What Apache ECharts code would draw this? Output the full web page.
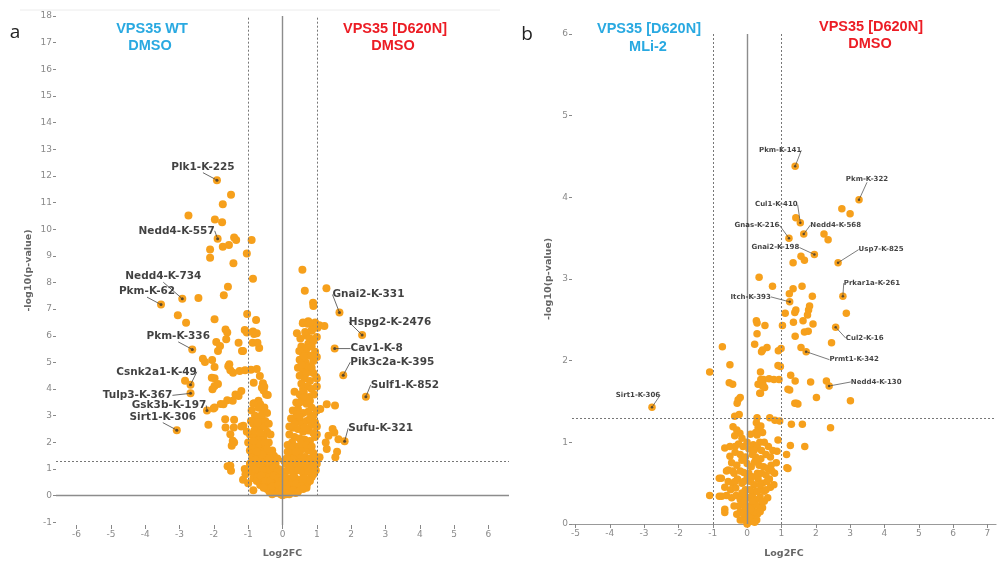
<!DOCTYPE html>
<html><head><meta charset="utf-8">
<script src="https://cdn.jsdelivr.net/npm/echarts@6/dist/echarts.min.js"></script>
<style>html,body{margin:0;padding:0;background:#fff}#c{width:997px;height:564px}</style>
</head><body><div id="c"></div>
<script>
// ---------------- DATA ----------------
// Panel a : tick values
const leftXTicks = [-6,-5,-4,-3,-2,-1,0,1,2,3,4,5,6];
const leftYTicks = [-1,0,1,2,3,4,5,6,7,8,9,10,11,12,13,14,15,16,17,18];
// Panel a : labelled sites
const leftLabelNames = ['Plk1-K-225','Nedd4-K-557','Nedd4-K-734','Pkm-K-62','Pkm-K-336','Csnk2a1-K-49','Tulp3-K-367','Gsk3b-K-197','Sirt1-K-306','Gnai2-K-331','Hspg2-K-2476','Cav1-K-8','Pik3c2a-K-395','Sulf1-K-852','Sufu-K-321'];
const leftLabelX = [-1.91,-1.89,-2.92,-3.54,-2.63,-2.68,-2.68,-2.20,-3.08,1.66,2.32,1.52,1.77,2.43,1.81];
const leftLabelY = [11.84,9.64,7.39,7.17,5.49,4.16,3.84,3.20,2.46,6.87,6.03,5.52,4.52,3.71,2.04];
// Panel a : other sites, left side (down)
const leftNegPoints = [
[-1.50,11.29],[-1.74,10.94],[-2.74,10.51],[-1.97,10.36],[-1.76,10.26],
[-1.41,9.69],[-1.35,9.59],[-0.90,9.59],[-2.11,9.24],[-1.74,9.34],[-1.56,9.41],[-1.04,9.09],[-2.11,8.93],[-1.43,8.72],[-0.86,8.14],
[-1.59,7.84],[-2.45,7.42],[-1.71,7.52],[-3.05,6.77],[-2.81,6.49],[-1.98,6.62],[-1.03,6.82],[-0.77,6.59],[-1.66,6.24],[-1.61,6.12],[-1.10,6.22],[-0.86,6.16],[-0.83,6.07],[-1.04,6.12],[-1.64,5.87],[-0.75,6.10],
[-1.93,5.77],[-1.82,5.62],[-1.88,5.43],[-1.28,5.74],[-1.15,5.43],[-0.87,5.74],[-0.68,5.54],[-0.73,5.74],[-1.18,5.43],
[-2.26,5.02],[-2.05,5.09],[-2.32,5.14],[-1.98,4.83],[-1.58,4.86],[-1.52,4.71],[-1.44,4.61],[-1.25,4.68],[-1.09,4.71],[-0.92,4.73],[-0.66,4.49],[-0.84,4.24],[-0.57,4.22],[-0.53,4.09],[-1.55,4.93],[-0.75,4.75],
[-2.84,4.31],[-1.98,4.41],[-1.98,4.12],[-1.88,4.19],[-2.04,3.99],[-2.06,4.43],[-1.28,3.74],[-1.37,3.80],[-1.61,3.58],[-0.48,3.80],[-0.43,3.78],[-0.83,3.47],[-0.74,3.44],[-0.53,3.31],[-1.20,3.93],[-0.55,3.95],[-0.60,4.05],
[-1.98,3.31],[-1.80,3.44],[-1.72,3.43],[-2.01,3.27],[-1.45,3.56],[-1.66,2.56],[-1.42,2.56],[-2.16,2.66],[-1.67,2.87],[-1.41,2.85],[-1.14,2.62],[-0.70,3.56],[-0.65,3.43],[-0.75,2.87],[-0.60,2.75],
[-1.52,2.31],[-1.45,2.06],[-1.48,1.87],[-1.41,2.00],[-1.60,1.10],[-1.52,1.12],[-1.50,0.94],[-1.20,2.60],[-1.04,2.40],[-1.10,1.00],[-1.08,0.80],[-1.15,0.60],[-0.85,0.20],[-1.00,0.47],[-1.00,2.00],[-0.95,1.70]
];
// Panel a : central V of small changes
const leftCorePoints = [
[-0.90,3.20],[-0.80,3.00],[-0.70,3.30],[-0.62,2.90],[-0.55,3.10],[-0.85,2.70],[-0.75,2.50],[-0.60,2.60],[-0.50,2.80],[-0.45,2.40],[-0.95,2.30],[-0.82,2.20],[-0.70,2.10],[-0.55,2.20],[-0.40,2.00],[-0.35,2.30],
[-0.90,1.90],[-0.78,1.80],[-0.62,1.75],[-0.50,1.90],[-0.30,1.70],[-0.42,1.60],[-0.88,1.60],[-0.70,1.50],[-0.55,1.45],[-0.25,1.50],[-0.35,1.35],
[-0.95,1.20],[-0.85,1.10],[-0.75,1.20],[-0.62,1.05],[-0.50,1.15],[-0.40,1.00],[-0.30,1.10],[-0.20,1.20],[-0.92,0.90],[-0.80,0.85],[-0.68,0.95],[-0.55,0.80],[-0.45,0.85],[-0.33,0.90],[-0.22,0.95],[-0.12,1.00],
[-0.85,0.65],[-0.72,0.70],[-0.60,0.60],[-0.48,0.65],[-0.38,0.70],[-0.28,0.60],[-0.18,0.75],[-0.08,0.80],[-0.65,0.40],[-0.52,0.45],[-0.40,0.50],[-0.30,0.40],[-0.20,0.50],[-0.10,0.55],
[-0.45,0.25],[-0.35,0.30],[-0.25,0.20],[-0.15,0.30],[-0.05,0.35],[-0.20,0.10],[-0.10,0.15],[-0.05,0.05],[0.00,0.02],[0.05,0.10],[0.10,0.20],
[-0.88,1.25],[-0.78,1.00],[-0.65,1.20],[-0.58,0.95],[-0.42,1.25],[-0.25,1.05],[-0.15,0.90],[-0.05,0.95],[0.05,0.85],[0.18,1.05],[0.32,1.05],[0.48,1.08],[0.62,1.00],[0.78,1.00],[0.92,1.10],[0.97,0.95],
[-0.75,0.55],[-0.62,0.75],[-0.50,0.55],[-0.35,0.55],[-0.25,0.75],[-0.12,0.65],[0.00,0.60],[0.05,0.45],[0.18,0.55],[0.28,0.55],[0.42,0.60],[0.58,0.50],[0.72,0.45],[0.85,0.70],[0.62,0.40],
[-0.55,0.30],[-0.38,0.15],[-0.28,0.35],[-0.12,0.40],[0.00,0.25],[0.05,0.30],[0.25,0.30],[0.35,0.35],[0.50,0.25],[0.38,0.10],[0.10,0.05],[-0.30,0.05],
[-0.88,1.45],[-0.78,1.35],[-0.60,1.30],[-0.45,1.40],[-0.15,1.40],[0.05,1.30],[0.22,1.35],[0.45,1.40],[0.60,1.30],[0.75,1.25],[0.90,1.30],
[-0.82,2.45],[-0.65,2.35],[-0.52,2.60],[-0.40,2.70],[-0.92,2.80],[-0.72,2.75],[-0.60,3.05],[-0.85,3.45],[-0.45,3.10],[-0.68,1.95],[-0.52,2.00],[-0.85,2.05],[-0.45,1.75],[-0.60,1.55],[-0.75,1.65],
[0.60,6.50],[0.75,6.55],[0.90,6.30],[1.02,6.30],[0.95,6.50],[0.85,6.20],[0.70,6.00],[0.80,5.90],[1.00,5.95],[0.42,6.10],[0.52,5.90],[0.75,5.70],[0.90,5.80],[0.65,5.45],
[0.55,5.60],[0.70,5.50],[0.85,5.60],[0.95,5.40],[0.60,5.30],[0.80,5.25],[1.00,5.20],[0.50,5.10],[0.68,5.00],[0.90,5.05],[0.49,5.43],[0.63,5.24],
[0.45,4.80],[0.60,4.70],[0.75,4.85],[0.90,4.60],[0.50,4.50],[0.65,4.40],[0.80,4.30],[0.98,4.45],[0.55,4.20],[0.72,4.10],[0.85,4.00],[1.00,4.40],[1.00,4.10],[0.70,4.60],[0.85,4.80],[0.55,4.90],[0.60,4.00],
[0.35,3.90],[0.50,3.80],[0.62,3.90],[0.78,3.70],[0.92,3.80],[0.40,3.50],[0.55,3.55],[0.70,3.45],[0.85,3.30],[0.30,3.20],[0.45,3.25],[0.60,3.10],[0.75,3.15],[0.90,3.00],[1.00,3.20],[0.50,3.50],[0.65,3.70],[0.80,3.55],
[0.25,2.90],[0.40,2.85],[0.55,2.75],[0.70,2.80],[0.85,2.65],[0.30,2.55],[0.45,2.50],[0.60,2.40],[0.75,2.45],[0.90,2.35],[0.20,2.30],[0.35,2.20],[0.50,2.15],[0.65,2.10],[0.80,2.05],[0.95,2.20],[0.28,2.00],
[0.20,2.60],[0.35,2.70],[0.50,2.95],[0.65,2.55],[0.80,2.90],[0.95,2.75],[0.42,3.05],
[0.15,1.90],[0.30,1.80],[0.45,1.85],[0.60,1.75],[0.75,1.70],[0.90,1.60],[0.20,1.55],[0.35,1.50],[0.50,1.55],[0.65,1.45],[0.80,1.40],[0.95,1.45],[0.12,1.40],
[0.25,1.70],[0.40,1.65],[0.55,1.95],[0.70,1.90],[0.85,1.85],[0.15,1.65],
[0.10,1.20],[0.25,1.15],[0.40,1.20],[0.55,1.10],[0.70,1.15],[0.85,1.05],[1.00,1.20],[0.15,0.95],[0.30,0.90],[0.45,0.95],[0.60,0.85],[0.75,0.90],[0.90,0.80],
[0.08,0.70],[0.20,0.65],[0.35,0.70],[0.50,0.60],[0.65,0.65],[0.80,0.55],[0.12,0.45],[0.25,0.40],[0.40,0.45],[0.55,0.35],[0.70,0.30],[0.15,0.25],[0.30,0.20],[0.45,0.15],[0.60,0.25],[0.20,0.05],[0.08,0.10]
];
// Panel a : other sites, right side (up)
const leftPosPoints = [
[1.28,7.78],[0.58,8.48],[0.65,7.69],[0.89,7.24],[0.90,7.12],[0.59,6.47],[0.73,6.45],[0.92,6.42],[1.07,6.40],[1.22,6.37],[0.79,6.47],[0.66,6.14],[0.85,6.20],
[1.29,3.43],[1.53,3.38],[1.10,3.25],[1.46,2.50],[1.51,2.37],[1.34,2.25],[1.26,2.00],[1.63,2.12],[1.29,1.75],[1.59,1.65],[1.54,1.44],[1.08,1.44],[1.00,2.30],[1.00,2.60]
];

// Panel b : tick values
const rightXTicks = [-5,-4,-3,-2,-1,0,1,2,3,4,5,6,7];
const rightYTicks = [0,1,2,3,4,5,6];
// Panel b : labelled sites
const rightLabelNames = ['Pkm-K-141','Pkm-K-322','Cul1-K-410','Nedd4-K-568','Gnas-K-216','Gnai2-K-198','Usp7-K-825','Prkar1a-K-261','Itch-K-393','Cul2-K-16','Prmt1-K-342','Nedd4-K-130','Sirt1-K-306'];
const rightLabelX = [1.40,3.26,1.55,1.65,1.22,1.96,2.65,2.79,1.24,2.58,1.72,2.39,-2.77];
const rightLabelY = [4.38,3.97,3.69,3.55,3.50,3.30,3.20,2.79,2.72,2.41,2.11,1.69,1.43];
// Panel b : other sites above the threshold region
const rightSigPoints = [
[2.76,3.86],[3.00,3.80],[1.42,3.75],[2.24,3.55],[2.36,3.48],[1.57,3.28],[1.67,3.23],[1.34,3.20],[0.35,3.02],[0.74,2.91],[1.23,2.82],[1.34,2.88],[1.60,2.91],[1.90,2.79],
[1.82,2.67],[1.79,2.62],[1.76,2.56],[1.63,2.49],[1.42,2.62],[1.39,2.59],[1.11,2.58],[1.03,2.43],[1.35,2.47],[1.92,2.45],[1.67,2.35],[1.78,2.36],[1.40,2.30],[2.89,2.58],[2.46,2.22],[1.57,2.16],
[0.27,2.49],[0.29,2.46],[0.52,2.43],[0.29,2.33],[0.22,2.20],[0.58,2.16],[0.42,2.11],[0.91,2.12],[0.99,2.15],[0.45,2.13],
[-0.72,2.17],[-1.09,1.86],[-0.50,1.95],[-0.52,1.73],[-0.42,1.71],[-0.20,1.55],[-0.26,1.52],[-0.29,1.48],
[0.97,1.93],[0.90,1.94],[0.39,1.86],[0.48,1.77],[0.32,1.71],[0.46,1.71],[0.51,1.67],[0.39,1.60],[0.40,1.77],[0.45,1.69],[0.37,1.60],[0.64,1.78],[0.78,1.77],[0.93,1.77],
[1.27,1.82],[1.40,1.75],[1.24,1.64],[1.85,1.74],[2.31,1.75],[2.02,1.55],[3.01,1.51],[1.39,1.48],[1.48,1.47],[1.19,1.65],[1.44,1.48]
];
// Panel b : central cluster
const rightCorePoints = [
[-0.23,1.34],[-0.36,1.32],[-0.41,1.19],[-0.21,1.11],[-0.36,1.08],[-0.30,1.15],
[0.29,1.30],[0.27,1.24],[0.32,1.18],[0.29,1.09],[0.45,1.12],[0.25,1.12],[0.37,1.00],
[0.66,1.30],[0.81,1.27],[0.95,1.26],[1.29,1.22],[1.61,1.22],[2.43,1.18],
[0.90,1.03],[0.87,0.89],[1.15,0.85],[1.16,0.69],[1.26,0.96],[1.68,0.95],[1.19,0.68],
[-0.65,0.93],[-0.50,0.83],[-0.55,0.66],[-0.75,0.56],[-0.81,0.34],[-0.65,0.18],[-1.09,0.35],[-0.74,0.34],[-0.81,0.56],[-0.65,0.14],
[-0.25,0.98],[-0.12,0.95],[0.05,0.92],[0.18,0.97],[0.30,0.93],[0.42,0.90],[0.55,0.85],[0.68,0.82],[-0.35,0.88],[-0.20,0.85],[0.25,0.82],
[-0.45,0.75],[-0.30,0.72],[-0.15,0.78],[0.00,0.74],[0.12,0.70],[0.22,0.76],[0.35,0.72],[0.48,0.70],[0.60,0.68],[0.72,0.65],[0.80,0.62],[-0.60,0.65],[-0.38,0.62],[-0.10,0.63],[0.30,0.62],
[-0.55,0.52],[-0.42,0.50],[-0.28,0.55],[-0.15,0.50],[0.00,0.56],[0.10,0.52],[0.20,0.48],[0.32,0.55],[0.45,0.50],[0.58,0.52],[0.68,0.45],[0.78,0.48],[-0.48,0.42],[-0.33,0.44],[-0.05,0.42],[0.25,0.40],[0.40,0.42],[0.50,0.40],
[-0.45,0.32],[-0.32,0.35],[-0.20,0.30],[-0.08,0.36],[0.05,0.32],[0.15,0.35],[0.28,0.30],[0.38,0.33],[0.50,0.28],[0.60,0.32],[-0.25,0.22],[-0.12,0.24],[0.02,0.22],[0.12,0.20],[0.22,0.24],[0.35,0.22],[0.45,0.20],
[-0.20,0.15],[-0.10,0.12],[0.00,0.14],[0.10,0.10],[0.20,0.15],[0.30,0.12],[-0.12,0.05],[-0.02,0.04],[0.08,0.03],[0.18,0.06],[0.00,0.00],[0.05,0.08],[-0.05,0.20],[0.28,0.05],
[-0.35,0.95],[-0.15,1.05],[0.00,1.00],[0.10,1.10],[0.15,0.85],[0.40,1.20],[0.50,1.00],[0.62,0.95],[0.75,0.90],[-0.50,0.95],[-0.42,0.65],[-0.20,0.65],[0.05,0.62],[0.42,0.62],[0.65,0.55],[0.85,0.75],
[-0.65,0.45],[-0.60,0.35],[-0.35,0.52],[-0.10,0.52],[0.15,0.58],[0.38,0.48],[0.55,0.42],[-0.38,0.22],[-0.15,0.38],[0.08,0.42],[0.30,0.40],[0.45,0.28],[-0.30,0.12],[0.15,0.28],[0.25,0.15],[0.38,0.15],
[-0.08,0.28],[0.10,0.18],[-0.20,0.05],[0.22,0.02],[0.30,0.78],[0.20,0.90],[-0.05,0.82],[0.55,0.60],[0.70,0.72],[0.40,0.80]
];
// thresholds
const fcCut = 1;
const pCut = 1.3;

// ---------------- STYLE / LAYOUT ----------------
const leftOffsets = {'Plk1-K-225':[-14,-13],'Nedd4-K-557':[-41,-8],'Nedd4-K-734':[-19,-22],'Pkm-K-62':[-14,-13],'Pkm-K-336':[-14,-13],'Csnk2a1-K-49':[-34,-13],'Tulp3-K-367':[-53,2],'Gsk3b-K-197':[-38,-5],'Sirt1-K-306':[-14,-13],'Gnai2-K-331':[29,-18],'Hspg2-K-2476':[28,-13],'Cav1-K-8':[42,0],'Pik3c2a-K-395':[49,-13],'Sulf1-K-852':[39,-12],'Sufu-K-321':[36,-13]};
const rightOffsets = {'Pkm-K-141':[-15,-16],'Pkm-K-322':[8,-21],'Cul1-K-410':[-24,-18],'Nedd4-K-568':[32,-9],'Gnas-K-216':[-32,-13],'Gnai2-K-198':[-39,-7],'Usp7-K-825':[43,-13],'Prkar1a-K-261':[29,-13],'Itch-K-393':[-39,-5],'Cul2-K-16':[29,11],'Prmt1-K-342':[48,8],'Nedd4-K-130':[47,-4],'Sirt1-K-306':[-14,-12]};

const ORANGE = '#F6A01C';
const AXIS_TXT = '#8a8a8a';
const FONT = 'DejaVu Sans';

function layoutFn(offs){
  return function(p){
    const o = offs[p.text] || [0,-10];
    return {x: p.rect.x + p.rect.width/2 + o[0], y: p.rect.y + p.rect.height/2 + o[1], align:'center', verticalAlign:'middle'};
  };
}
function labelData(names, xs, ys){ return names.map((n,i)=>({name:n, value:[xs[i], ys[i]]})); }
function pairs(xs, ys){ return xs.map((x,i)=>[x, ys[i]]); }

function xAxisCfg(grid, min, max, ticks, showLine, gap){
  return {gridIndex:grid, type:'value', min:min, max:max,
    axisLine:{show:showLine, onZero:false, lineStyle:{color:'#999', width:1.2}},
    axisTick:{show:true, length:4, customValues:ticks, lineStyle:{color:'#888'}},
    axisLabel:{customValues:ticks, color:AXIS_TXT, fontSize:9, fontFamily:FONT, margin:5},
    splitLine:{show:false},
    name:'Log2FC', nameLocation:'middle', nameGap:gap,
    nameTextStyle:{color:'#666', fontWeight:'bold', fontSize:9.5, fontFamily:FONT}};
}
function yAxisCfg(grid, min, max, ticks, gap){
  return {gridIndex:grid, type:'value', min:min, max:max,
    axisLine:{show:false, onZero:false},
    axisTick:{show:true, length:3, customValues:ticks, lineStyle:{color:'#888'}},
    axisLabel:{customValues:ticks, color:AXIS_TXT, fontSize:9, fontFamily:FONT, margin:4},
    splitLine:{show:false},
    name:'-log10(p-value)', nameLocation:'middle', nameGap:gap,
    nameTextStyle:{color:'#666', fontWeight:'bold', fontSize:9.5, fontFamily:FONT}};
}
const dotted = {type:[2,2], color:'#777', width:1};
const solid = {type:'solid', color:'#8c8c8c', width:1.4};

function lineSeries(xi, style, segs){
  return {type:'scatter', xAxisIndex:xi, yAxisIndex:xi, data:[], silent:true,
    markLine:{silent:true, symbol:'none', animation:false, label:{show:false}, lineStyle:style,
      emphasis:{disabled:true},
      data:segs.map(s=>[{coord:s[0]},{coord:s[1]}])}};
}

const chart = echarts.init(document.getElementById('c'), null, {renderer:'canvas'});
chart.setOption({
  animation:false,
  backgroundColor:'#fff',
  grid:[
    {left:56, right:488, top:16, bottom:38},
    {left:572, right:1, top:34, bottom:40}
  ],
  xAxis:[ xAxisCfg(0,-6.6,6.6,leftXTicks,false,24), xAxisCfg(1,-5.1,7.25,rightXTicks,true,25) ],
  yAxis:[ yAxisCfg(0,-1.1,18,leftYTicks,22), yAxisCfg(1,0,6,rightYTicks,18) ],
  graphic:[
    {type:'line', shape:{x1:20,y1:10,x2:500,y2:10}, style:{stroke:'#ececec', lineWidth:1}},
    {type:'text', x:15, y:33, style:{text:'a', font:'19px "Open Sans"', fill:'#222', align:'center', verticalAlign:'middle'}},
    {type:'text', x:527, y:35, style:{text:'b', font:'19px "Open Sans"', fill:'#222', align:'center', verticalAlign:'middle'}},
    {type:'text', x:152, y:29, style:{text:'VPS35 WT', font:'bold 14.5px "Liberation Sans"', fill:'#29A9E1', align:'center', verticalAlign:'middle'}},
    {type:'text', x:150, y:46, style:{text:'DMSO', font:'bold 14.5px "Liberation Sans"', fill:'#29A9E1', align:'center', verticalAlign:'middle'}},
    {type:'text', x:395, y:29, style:{text:'VPS35 [D620N]', font:'bold 14.5px "Liberation Sans"', fill:'#EC1C24', align:'center', verticalAlign:'middle'}},
    {type:'text', x:393, y:46, style:{text:'DMSO', font:'bold 14.5px "Liberation Sans"', fill:'#EC1C24', align:'center', verticalAlign:'middle'}},
    {type:'text', x:649, y:29, style:{text:'VPS35 [D620N]', font:'bold 14.5px "Liberation Sans"', fill:'#29A9E1', align:'center', verticalAlign:'middle'}},
    {type:'text', x:648, y:47, style:{text:'MLi-2', font:'bold 14.5px "Liberation Sans"', fill:'#29A9E1', align:'center', verticalAlign:'middle'}},
    {type:'text', x:871, y:27, style:{text:'VPS35 [D620N]', font:'bold 14.5px "Liberation Sans"', fill:'#EC1C24', align:'center', verticalAlign:'middle'}},
    {type:'text', x:870, y:44, style:{text:'DMSO', font:'bold 14.5px "Liberation Sans"', fill:'#EC1C24', align:'center', verticalAlign:'middle'}}
  ],
  series:[
    lineSeries(0, dotted, [[[-fcCut,0],[-fcCut,18]],[[fcCut,0],[fcCut,18]],[[-6.6,pCut],[6.6,pCut]]]),
    lineSeries(0, solid, [[[0,-1.1],[0,18]],[[-6.6,0],[6.6,0]]]),
    {type:'scatter', xAxisIndex:0, yAxisIndex:0, symbolSize:8, silent:true,
     itemStyle:{color:ORANGE, opacity:1},
     data: leftNegPoints.concat(leftCorePoints, leftPosPoints, pairs(leftLabelX, leftLabelY))},
    {type:'scatter', xAxisIndex:0, yAxisIndex:0, symbolSize:3, silent:true, z:5,
     itemStyle:{color:'#333'},
     data: labelData(leftLabelNames, leftLabelX, leftLabelY),
     label:{show:true, formatter:'{b}', color:'#111', fontSize:10.5, fontWeight:'bold', fontFamily:FONT},
     labelLayout: layoutFn(leftOffsets),
     labelLine:{show:true, lineStyle:{color:'#444', width:0.8}}},
    lineSeries(1, dotted, [[[-fcCut,0],[-fcCut,6]],[[fcCut,0],[fcCut,6]],[[-5.1,pCut],[7.25,pCut]]]),
    lineSeries(1, solid, [[[0,0],[0,6]]]),
    {type:'scatter', xAxisIndex:1, yAxisIndex:1, symbolSize:7.5, silent:true,
     itemStyle:{color:ORANGE, opacity:1},
     data: rightSigPoints.concat(rightCorePoints, pairs(rightLabelX, rightLabelY))},
    {type:'scatter', xAxisIndex:1, yAxisIndex:1, symbolSize:2.5, silent:true, z:5,
     itemStyle:{color:'#333'},
     data: labelData(rightLabelNames, rightLabelX, rightLabelY),
     label:{show:true, formatter:'{b}', color:'#111', fontSize:7, fontWeight:'bold', fontFamily:FONT},
     labelLayout: layoutFn(rightOffsets),
     labelLine:{show:true, lineStyle:{color:'#444', width:0.7}}}
  ]
});
</script></body></html>
